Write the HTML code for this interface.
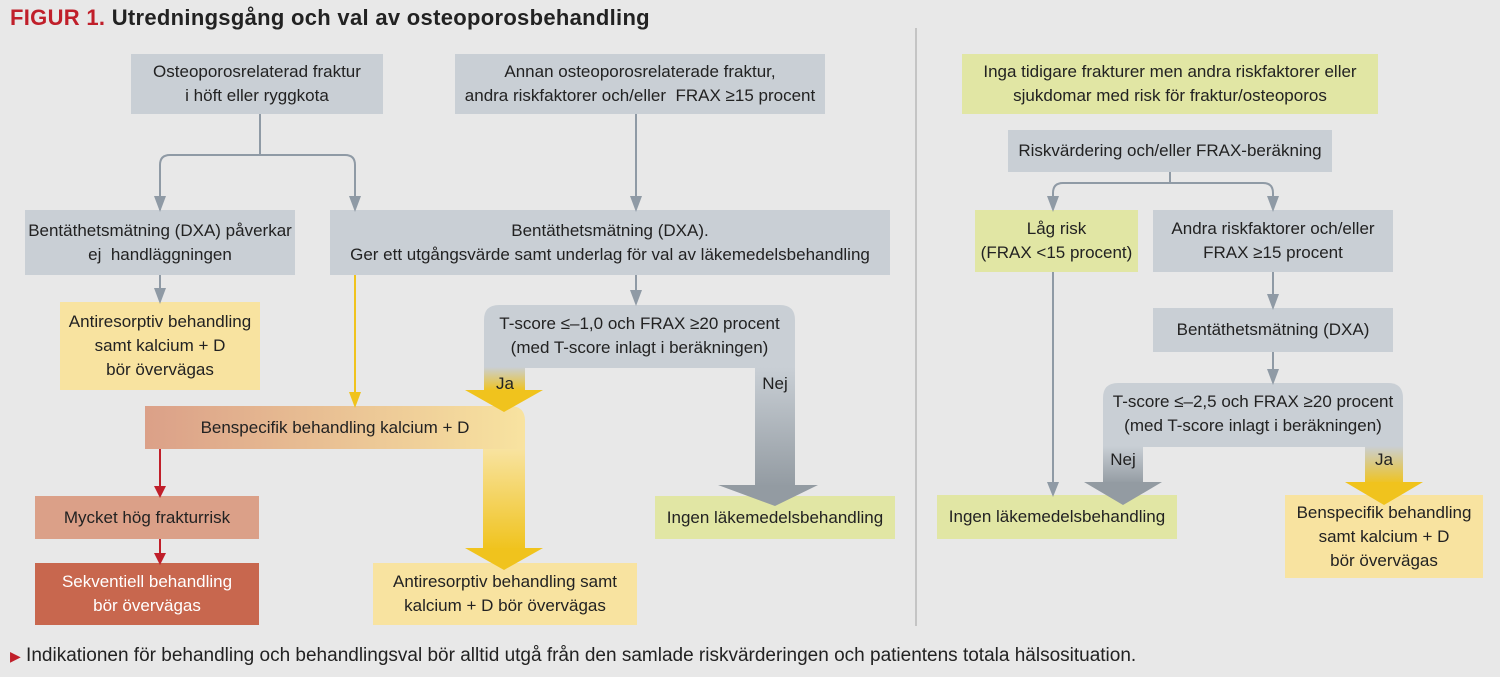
<!DOCTYPE html>
<html><head><meta charset="utf-8"><style>
body{margin:0;width:1500px;height:677px;background:#e8e8e8;position:relative;overflow:hidden;font-family:"Liberation Sans Narrow","Liberation Sans",sans-serif;color:#222}
.b{position:absolute;display:flex;align-items:center;justify-content:center;text-align:center;font-size:17px;line-height:24px;box-sizing:border-box}
.g{background:#c9cfd5}.y{background:#f8e3a0}.gr{background:#e1e6a4}
svg{position:absolute;left:0;top:0}
</style></head><body>
<svg width="1500" height="677">
<defs>
<linearGradient id="lg" x1="0" y1="0" x2="0" y2="1"><stop offset="0" stop-color="#c9cfd5"/><stop offset="1" stop-color="#939ba2"/></linearGradient>
<linearGradient id="ly" x1="0" y1="0" x2="0" y2="1"><stop offset="0" stop-color="#c9cfd5"/><stop offset="1" stop-color="#f0c31d"/></linearGradient>
<linearGradient id="ly2" x1="0" y1="0" x2="0" y2="1"><stop offset="0" stop-color="#f8e3a0"/><stop offset="1" stop-color="#f0c31d"/></linearGradient>
<linearGradient id="lf" x1="0" y1="0" x2="1" y2="0"><stop offset="0" stop-color="#dba088"/><stop offset="1" stop-color="#f8e3a0"/></linearGradient>
</defs>
<line x1="916" y1="28" x2="916" y2="626" stroke="#c4c4c4" stroke-width="2"/>
<g stroke="#8f9aa5" stroke-width="2" fill="none">
<path d="M260 114V155M160 210V165Q160 155 170 155H345Q355 155 355 165V205"/>
<path d="M636 114V205M160 275V298M636 275V300"/>
<path d="M1170 172V183M1053 205V193Q1053 183 1063 183H1263Q1273 183 1273 193V205"/>
<path d="M1273 272V303M1273 352V378M1053 272V490"/>
</g>
<path d="M355 275V400" stroke="#f0c31d" stroke-width="2"/>
<path d="M160 449V490M160 539V557" stroke="#c01f2a" stroke-width="2"/>
<path d="M484 368V320Q484 305 499 305H780Q795 305 795 320V368Z" fill="#c9cfd5"/>
<rect x="484" y="367" width="41" height="24" fill="url(#ly)"/>
<rect x="755" y="367" width="40" height="120" fill="url(#lg)"/>
<path d="M145 406H510Q525 406 525 421V449H145Z" fill="url(#lf)"/>
<rect x="483" y="449" width="42" height="101" fill="url(#ly2)"/>
<path d="M1103 447V398Q1103 383 1118 383H1388Q1403 383 1403 398V447Z" fill="#c9cfd5"/>
<rect x="1103" y="446" width="40" height="38" fill="url(#lg)"/>
<rect x="1365" y="446" width="38" height="38" fill="url(#ly)"/>
</svg>
<div style="position:absolute;left:10px;top:5px;font-size:22px;font-weight:bold;letter-spacing:0.3px"><span style="color:#c01f2a">FIGUR 1.</span> Utredningsgång och val av osteoporosbehandling</div>
<div class="b g" style="left:131px;top:54px;width:252px;height:60px">Osteoporosrelaterad fraktur<br>i höft eller ryggkota</div>
<div class="b g" style="left:455px;top:54px;width:370px;height:60px">Annan osteoporosrelaterade fraktur,<br>andra riskfaktorer och/eller&nbsp; FRAX ≥15 procent</div>
<div class="b g" style="left:25px;top:210px;width:270px;height:65px">Bentäthetsmätning (DXA) påverkar<br>ej&nbsp; handläggningen</div>
<div class="b g" style="left:330px;top:210px;width:560px;height:65px">Bentäthetsmätning (DXA).<br>Ger ett utgångsvärde samt underlag för val av läkemedelsbehandling</div>
<div class="b y" style="left:60px;top:302px;width:200px;height:88px">Antiresorptiv behandling<br>samt kalcium + D<br>bör övervägas</div>
<div class="b" style="left:484px;top:310px;width:311px;height:52px">T-score ≤–1,0 och FRAX ≥20 procent<br>(med T-score inlagt i beräkningen)</div>
<div class="b" style="left:490px;top:372px;width:30px;height:24px">Ja</div>
<div class="b" style="left:760px;top:372px;width:30px;height:24px">Nej</div>
<div class="b" style="left:145px;top:406px;width:380px;height:43px">Benspecifik behandling kalcium + D</div>
<div class="b" style="left:35px;top:496px;width:224px;height:43px;background:#dba088">Mycket hög frakturrisk</div>
<div class="b" style="left:35px;top:563px;width:224px;height:62px;background:#c8674e;color:#fff">Sekventiell behandling<br>bör övervägas</div>
<div class="b y" style="left:373px;top:563px;width:264px;height:62px">Antiresorptiv behandling samt<br>kalcium + D bör övervägas</div>
<div class="b gr" style="left:655px;top:496px;width:240px;height:43px">Ingen läkemedelsbehandling</div>
<div class="b gr" style="left:962px;top:54px;width:416px;height:60px">Inga tidigare frakturer men andra riskfaktorer eller<br>sjukdomar med risk för fraktur/osteoporos</div>
<div class="b g" style="left:1008px;top:130px;width:324px;height:42px">Riskvärdering och/eller FRAX-beräkning</div>
<div class="b gr" style="left:975px;top:210px;width:163px;height:62px">Låg risk<br>(FRAX &lt;15 procent)</div>
<div class="b g" style="left:1153px;top:210px;width:240px;height:62px">Andra riskfaktorer och/eller<br>FRAX ≥15 procent</div>
<div class="b g" style="left:1153px;top:308px;width:240px;height:44px">Bentäthetsmätning (DXA)</div>
<div class="b" style="left:1103px;top:388px;width:300px;height:52px">T-score ≤–2,5 och FRAX ≥20 procent<br>(med T-score inlagt i beräkningen)</div>
<div class="b" style="left:1105px;top:448px;width:36px;height:24px">Nej</div>
<div class="b" style="left:1367px;top:448px;width:34px;height:24px">Ja</div>
<div class="b gr" style="left:937px;top:495px;width:240px;height:44px">Ingen läkemedelsbehandling</div>
<div class="b y" style="left:1285px;top:495px;width:198px;height:83px">Benspecifik behandling<br>samt kalcium + D<br>bör övervägas</div>
<svg width="1500" height="677">
<g fill="#8f9aa5">
<path d="M154 196L166 196L160 212Z M349 196L361 196L355 212Z M630 196L642 196L636 212Z M154 288L166 288L160 304Z M630 290L642 290L636 306Z M1047 196L1059 196L1053 212Z M1267 196L1279 196L1273 212Z M1267 294L1279 294L1273 310Z M1267 369L1279 369L1273 385Z M1047 482L1059 482L1053 497Z"/>
</g>
<path d="M349 392L361 392L355 408Z" fill="#f0c31d"/>
<path d="M154 486L166 486L160 498Z M154 553L166 553L160 565Z" fill="#c01f2a"/>
<path d="M465 390L543 390L504 412Z" fill="#f0c31d"/>
<path d="M718 485L818 485L775 506Z" fill="#939ba2"/>
<path d="M465 548L543 548L504 570Z" fill="#f0c31d"/>
<path d="M1084 482L1162 482L1123 505Z" fill="#939ba2"/>
<path d="M1345 482L1423 482L1384 505Z" fill="#f0c31d"/>
</svg>
<div style="position:absolute;left:10px;top:645px;font-size:19px;line-height:22px"><span style="color:#c01f2a;font-size:14px">▶</span> Indikationen för behandling och behandlingsval bör alltid utgå från den samlade riskvärderingen och patientens totala hälsosituation.</div>
</body></html>
